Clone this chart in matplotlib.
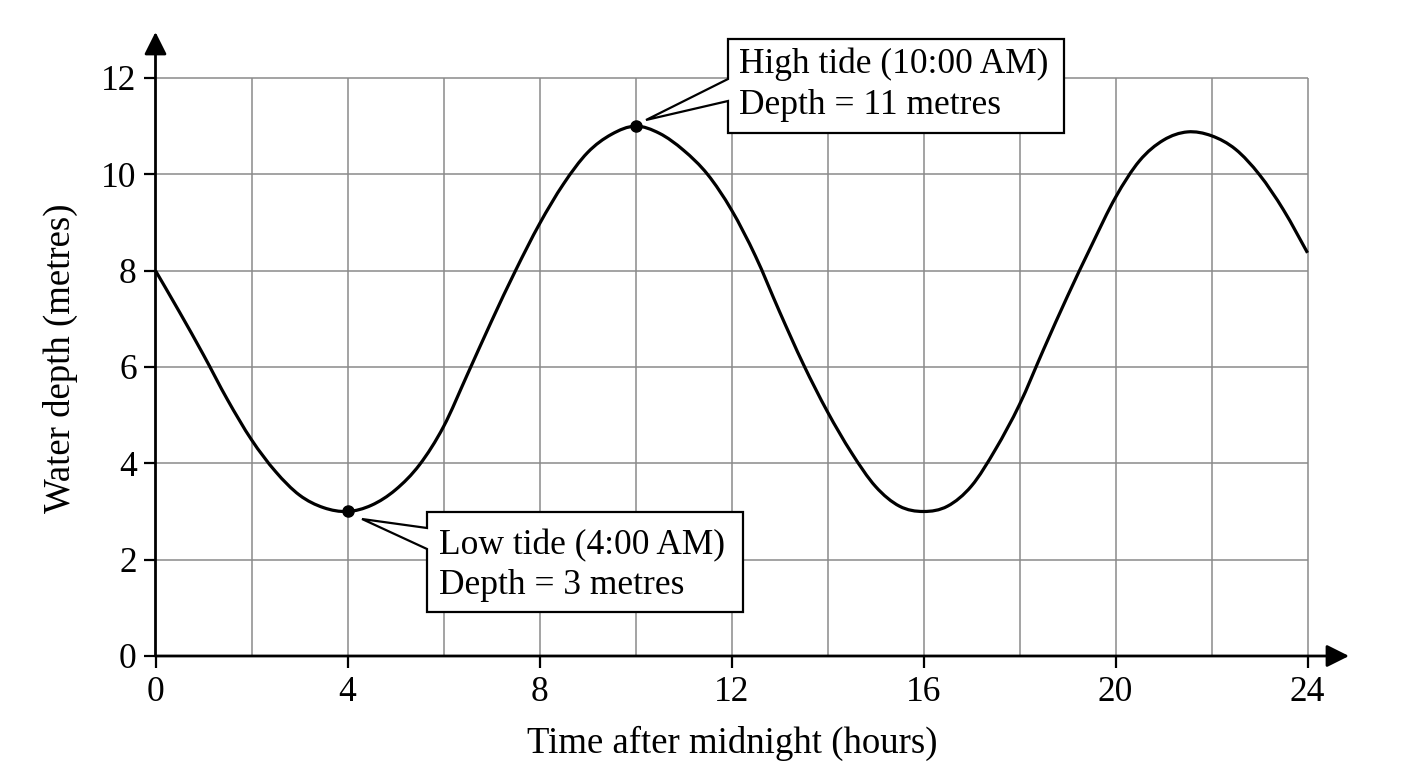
import matplotlib
matplotlib.use("Agg")
import matplotlib.pyplot as plt
from matplotlib.patches import Polygon, PathPatch
from matplotlib.path import Path

# ---- data ----
hours = [0, 0.5, 1, 1.5, 2, 2.5, 3, 3.5, 4, 4.5, 5, 5.5, 6, 6.5, 7, 7.5, 8, 8.5,
         9, 9.5, 10, 10.5, 11, 11.5, 12, 12.5, 13, 13.5, 14, 14.5, 15, 15.5, 16,
         16.5, 17, 17.5, 18, 18.5, 19, 19.5, 20, 20.5, 21, 21.5, 22, 22.5, 23,
         23.5, 24]
depth = [8.00, 7.14, 6.25, 5.32, 4.49, 3.83, 3.34, 3.08, 3.00, 3.13, 3.45, 3.97,
         4.76, 5.85, 6.95, 8.00, 8.97, 9.80, 10.45, 10.83, 11.00, 10.85, 10.50,
         10.00, 9.26, 8.30, 7.15, 6.05, 5.07, 4.22, 3.52, 3.11, 3.00, 3.11, 3.53,
         4.29, 5.22, 6.36, 7.47, 8.52, 9.52, 10.28, 10.71, 10.88, 10.80, 10.52,
         9.99, 9.26, 8.37]

x_ticks = [0, 4, 8, 12, 16, 20, 24]
y_ticks = [0, 2, 4, 6, 8, 10, 12]
x_grid = [2, 4, 6, 8, 10, 12, 14, 16, 18, 20, 22, 24]
y_grid = [2, 4, 6, 8, 10, 12]

low_pt = (4, 3)
high_pt = (10, 11)
low_text = ["Low tide (4:00 AM)", "Depth = 3 metres"]
high_text = ["High tide (10:00 AM)", "Depth = 11 metres"]
x_label = "Time after midnight (hours)"
y_label = "Water depth (metres)"

# ---- figure ----
W, H = 1408, 768
FONT = "Liberation Serif"
FS_TICK = 25.5
FS_BOX = 25.5
FS_LABEL = 26.5
plt.rcParams['font.family'] = [FONT, 'DejaVu Serif']

fig = plt.figure(figsize=(W / 100, H / 100), dpi=100)
x0_px, y0_px = 155.5, 656.0
px_per_h = 48.0
px_per_m = 48.17
xmax = (1349 - x0_px) / px_per_h
ymax = (y0_px - 32) / px_per_m
ax = fig.add_axes([x0_px / W, (H - y0_px) / H,
                   (1349 - x0_px) / W, (y0_px - 32) / H])
ax.set_xlim(0, xmax)
ax.set_ylim(0, ymax)
for s in ax.spines.values():
    s.set_visible(False)


def px2d(px, py):
    return ((px - x0_px) / px_per_h, (y0_px - py) / px_per_m)


# grid limited to the 0..24 x 0..12 box
ax.vlines(x_grid, 0, 12, colors="#8a8a8a", linewidth=1.1, zorder=1)
ax.hlines(y_grid, 0, 24, colors="#8a8a8a", linewidth=1.1, zorder=1)

# axes with arrows
arrow_kw = dict(arrowstyle="-|>", lw=2.0, color="black",
                mutation_scale=34, shrinkA=0, shrinkB=0)
ax.annotate("", xy=(xmax, 0), xytext=(0, 0), arrowprops=arrow_kw,
            annotation_clip=False, zorder=5)
ax.annotate("", xy=(0, ymax), xytext=(0, 0), arrowprops=arrow_kw,
            annotation_clip=False, zorder=5)

# ticks
ax.set_xticks(x_ticks)
ax.set_yticks(y_ticks)
ax.set_xticklabels([str(v) for v in x_ticks])
ax.set_yticklabels([str(v) for v in y_ticks])
ax.tick_params(axis="both", direction="out", length=8.5, width=1.6,
               color="black", labelsize=FS_TICK)
ax.tick_params(axis="x", pad=6)
ax.tick_params(axis="y", pad=5)
for lab in ax.get_xticklabels() + ax.get_yticklabels():
    lab.set_fontfamily(FONT)

# smooth curve through the read points (Catmull-Rom as cubic Bezier segments)
pts = list(zip(hours, depth))
n = len(pts)
verts = [pts[0]]
codes = [Path.MOVETO]
for i in range(n - 1):
    p0 = pts[i - 1] if i > 0 else pts[i]
    p1 = pts[i]
    p2 = pts[i + 1]
    p3 = pts[i + 2] if i + 2 < n else pts[i + 1]
    c1 = (p1[0] + (p2[0] - p0[0]) / 6.0, p1[1] + (p2[1] - p0[1]) / 6.0)
    c2 = (p2[0] - (p3[0] - p1[0]) / 6.0, p2[1] - (p3[1] - p1[1]) / 6.0)
    verts += [c1, c2, p2]
    codes += [Path.CURVE4] * 3
curve = PathPatch(Path(verts, codes), facecolor="none", edgecolor="black",
                  linewidth=2.3, zorder=3, clip_on=False)
ax.add_patch(curve)

ax.plot([low_pt[0], high_pt[0]], [low_pt[1], high_pt[1]], "o", color="black",
        markersize=8, zorder=6, clip_on=False)


def callout(box_px, wedge_px, tip_px, lines, text_left_px, baselines_px):
    l, r, t, b = box_px
    wa, wb = wedge_px
    pts_px = [(l, t), (r, t), (r, b), (l, b), (l, wb), tip_px, (l, wa)]
    poly_pts = [px2d(*p) for p in pts_px]
    poly = Polygon(poly_pts, closed=True, facecolor="white", edgecolor="black",
                   linewidth=1.6, joinstyle="miter", zorder=7, clip_on=False)
    ax.add_patch(poly)
    for line, bp in zip(lines, baselines_px):
        tx, ty = px2d(text_left_px, bp)
        ax.text(tx, ty, line, fontsize=FS_BOX, family=FONT, ha="left",
                va="baseline", zorder=8, clip_on=False)


callout((728, 1064, 39, 133), (79, 101), (646, 120), high_text, 739,
        [73, 114])
callout((427, 743, 512, 612), (528, 549), (362, 519), low_text, 439,
        [554, 594])

fig.text(732 / W, 1 - 753 / H, x_label, fontsize=FS_LABEL, family=FONT,
         ha="center", va="baseline")
fig.text(60 / W, 1 - 358 / H, y_label, fontsize=FS_LABEL, family=FONT,
         ha="center", va="center", rotation=90)

fig.savefig("out.png", dpi=100, facecolor="white")
